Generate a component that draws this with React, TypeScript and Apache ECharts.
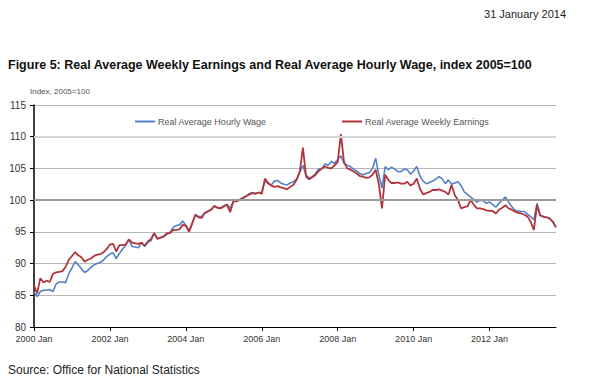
import React, { useEffect, useRef } from "react";
import * as echarts from "echarts";

const MONTHS = ["Jan","Feb","Mar","Apr","May","Jun","Jul","Aug","Sep","Oct","Nov","Dec"];
const YEARS = [2000,2001,2002,2003,2004,2005,2006,2007,2008,2009,2010,2011,2012,2013];
const LAST_MONTH_2013 = 10; // Jan..Oct 2013
const categories: string[] = [];
YEARS.forEach((y) => {
  const n = y === 2013 ? LAST_MONTH_2013 : 12;
  for (let m = 0; m < n; m++) categories.push(`${y} ${MONTHS[m]}`);
});

const weeklyEarnings = [
  86.6, 85.3, 87.7, 87.0, 87.3, 87.1, 88.4, 88.6, 88.7, 88.8, 89.5, 90.6,
  91.2, 91.8, 91.3, 91.0, 90.3, 90.6, 90.8, 91.2, 91.4, 91.5, 91.8, 92.3,
  93.0, 93.1, 91.9, 92.9, 92.9, 93.0, 93.8, 93.3, 93.2, 93.1, 93.3, 92.8,
  93.5, 93.9, 94.8, 93.9, 94.1, 94.3, 94.8, 94.8, 95.3, 95.3, 95.4, 96.1,
  96.0, 95.0, 96.3, 97.7, 97.3, 97.2, 98.0, 98.2, 98.5, 99.1, 98.8, 98.7,
  99.0, 99.3, 98.1, 99.8, 99.8, 100.0, 100.3, 100.6, 100.9, 101.1, 101.0, 101.2,
  101.0, 103.4, 102.7, 102.3, 102.1, 102.2, 102.0, 101.9, 101.7, 102.1, 102.4, 103.2,
  104.5, 108.3, 103.7, 103.3, 103.6, 104.0, 104.6, 105.0, 105.3, 105.1, 105.0, 105.5,
  106.0, 110.4, 106.0, 105.0, 104.8, 104.5, 104.2, 103.8, 103.7, 103.5, 103.6, 104.0,
  104.8, 102.5, 98.7, 104.0, 103.2, 102.7, 102.7, 102.8, 102.6, 102.6, 102.9, 102.3,
  102.6, 103.4, 101.8, 100.9, 101.1, 101.3, 101.6, 101.6, 101.7, 101.5, 101.3, 100.9,
  102.4, 100.8, 100.0, 98.7, 98.9, 99.0, 100.0, 99.3, 98.7, 98.7, 98.6, 98.4,
  98.3, 98.3, 97.9, 98.5, 98.8, 99.2, 98.7, 98.5, 98.2, 98.0, 97.9, 97.7,
  97.4, 96.6, 95.3, 99.2, 97.6, 97.4, 97.3, 97.1, 96.6, 95.7,
];

const hourlyWage = [
  85.5, 84.8, 85.6, 85.8, 85.8, 85.9, 85.6, 86.8, 87.1, 87.1, 87.0, 88.4,
  89.3, 90.3, 89.8, 89.2, 88.6, 88.9, 89.4, 89.8, 90.0, 90.2, 90.6, 91.1,
  91.5, 91.7, 90.8, 91.6, 92.3, 92.9, 93.8, 92.7, 92.6, 92.5, 93.3, 92.7,
  93.4, 93.6, 94.8, 93.9, 94.1, 94.2, 94.6, 94.9, 95.7, 96.0, 96.1, 96.7,
  96.0, 95.2, 96.4, 97.7, 97.4, 97.4, 98.0, 98.3, 98.5, 99.0, 98.8, 98.8,
  99.1, 99.3, 98.7, 99.8, 99.9, 100.1, 100.4, 100.6, 101.0, 101.2, 101.1, 101.2,
  101.2, 103.0, 102.6, 102.4, 103.0, 103.1, 102.7, 102.5, 102.4, 102.7, 102.9, 103.3,
  104.4, 105.5, 103.9, 103.5, 103.7, 104.2, 104.9, 105.0, 105.7, 105.5, 106.1, 105.8,
  106.4, 107.0, 105.8, 105.5, 105.3, 104.9, 104.6, 104.2, 104.0, 104.2, 104.3, 105.0,
  106.6, 104.0, 101.9, 105.3, 104.8, 105.2, 104.9, 104.5, 104.5, 104.9, 104.8, 104.1,
  104.6, 105.3, 103.8, 103.0, 102.6, 102.8, 103.0, 103.3, 103.7, 103.4, 102.6, 103.2,
  102.5, 102.7, 102.9, 102.3, 101.3, 100.9, 100.5, 100.1, 99.7, 100.0, 99.9, 99.5,
  99.7, 99.3, 98.9, 99.5, 100.0, 100.5, 99.7, 99.0, 98.4, 98.3, 98.2, 98.2,
  97.8, 97.4, 96.9, 99.5, 97.6, 97.4, 97.3, 97.1, 96.6, 95.7,
];

const Y_MIN = 80;
const Y_MAX = 115;
const Y_STEP = 5;
const SERIES_HOURLY = "Real Average Hourly Wage";
const SERIES_WEEKLY = "Real Average Weekly Earnings";
const BLUE = "#5580C8";
const RED = "#B2353B";
const FONT = "'Liberation Sans', Arial, sans-serif";

export default function App() {
  const ref = useRef<HTMLDivElement>(null);
  useEffect(() => {
    if (!ref.current) return;
    const chart = echarts.init(ref.current, null, { renderer: "svg" });
    chart.setOption({
      animation: false,
      backgroundColor: "#ffffff",
      textStyle: { fontFamily: FONT },
      graphic: [
        { type: "text", right: 28, top: 8, style: { text: "31 January 2014", fontSize: 11, fill: "#222", fontFamily: FONT } },
        { type: "text", left: 8, top: 58, style: { text: "Figure 5: Real Average Weekly Earnings and Real Average Hourly Wage, index 2005=100", fontSize: 12.5, fontWeight: "bold", fill: "#111", fontFamily: FONT } },
        { type: "text", left: 30, top: 87, style: { text: "Index, 2005=100", fontSize: 8, fill: "#555", fontFamily: FONT } },
        { type: "text", left: 8, top: 364, style: { text: "Source: Office for National Statistics", fontSize: 12, fill: "#222", fontFamily: FONT } },
      ],
      legend: [
        {
          data: [SERIES_HOURLY], left: 130, top: 112, icon: "rect", itemWidth: 20, itemHeight: 2, itemGap: 4,
          textStyle: { fontSize: 9, color: "#555", fontFamily: FONT, padding: [0, 0, 0, -2] },
        },
        {
          data: [SERIES_WEEKLY], left: 337, top: 112, icon: "rect", itemWidth: 20, itemHeight: 2, itemGap: 4,
          textStyle: { fontSize: 9, color: "#555", fontFamily: FONT, padding: [0, 0, 0, -2] },
        },
      ],
      grid: { left: 34, right: 38, top: 105, bottom: 57, containLabel: false },
      xAxis: {
        type: "category",
        data: categories,
        boundaryGap: false,
        axisLine: { lineStyle: { color: "#000", width: 1 } },
        axisTick: { interval: 23, length: 4, lineStyle: { color: "#000" } },
        axisLabel: { interval: 23, fontSize: 9, color: "#333", margin: 7, fontFamily: FONT },
        splitLine: { show: false },
      },
      yAxis: {
        type: "value",
        min: Y_MIN,
        max: Y_MAX,
        interval: Y_STEP,
        axisLine: { show: true, lineStyle: { color: "#000", width: 1.5 } },
        axisTick: { show: true, length: 4, lineStyle: { color: "#000" } },
        axisLabel: { fontSize: 10, color: "#333", margin: 8, fontFamily: FONT },
        splitLine: { show: true, lineStyle: { color: "#b8b8b8", width: 1 } },
      },
      series: [
        {
          name: SERIES_HOURLY,
          type: "line",
          data: hourlyWage,
          showSymbol: false,
          symbol: "none",
          lineStyle: { color: BLUE, width: 1.6 },
          itemStyle: { color: BLUE },
          z: 2,
          markLine: {
            silent: true,
            symbol: "none",
            label: { show: false },
            data: [
              { yAxis: 100, lineStyle: { color: "#9a9a9a", width: 2, type: "solid" } },
              { yAxis: 110, lineStyle: { color: "#d6d6d6", width: 2, type: "solid" } },
            ],
          },
        },
        {
          name: SERIES_WEEKLY,
          type: "line",
          data: weeklyEarnings,
          showSymbol: false,
          symbol: "none",
          lineStyle: { color: RED, width: 1.8 },
          itemStyle: { color: RED },
          z: 3,
        },
      ],
    });
    return () => chart.dispose();
  }, []);
  return <div ref={ref} style={{ width: 594, height: 384, position: "absolute", left: 0, top: 0 }} />;
}
